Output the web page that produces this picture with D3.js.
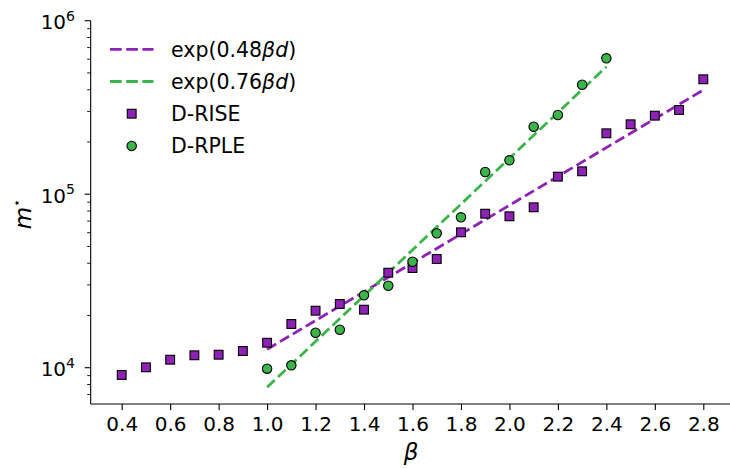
<!DOCTYPE html>
<html>
<head>
<meta charset="utf-8">
<script src="https://cdn.jsdelivr.net/npm/d3@7"></script>
<style>
  body { margin: 0; background: #fff; }
  svg text { font-family: "DejaVu Sans", sans-serif; fill: #000; }
</style>
</head>
<body>
<svg id="chart" width="730" height="468"></svg>
<script>
// beta values and measured m* for each method
const riseBeta = [0.4, 0.5, 0.6, 0.7, 0.8, 0.9, 1.0, 1.1, 1.2, 1.3, 1.4, 1.5, 1.6, 1.7, 1.8, 1.9, 2.0, 2.1, 2.2, 2.3, 2.4, 2.5, 2.6, 2.7, 2.8];
const riseM = [9080, 10050, 11120, 11790, 11880, 12480, 13930, 17860, 21310, 23290, 21600, 35280, 37550, 42320, 60300, 77200, 74580, 84030, 126200, 135500, 224400, 252900, 283500, 305700, 459500];
const rpleBeta = [1.0, 1.1, 1.2, 1.3, 1.4, 1.5, 1.6, 1.7, 1.8, 1.9, 2.0, 2.1, 2.2, 2.3, 2.4];
const rpleM = [9870, 10320, 15910, 16560, 26140, 29690, 40830, 59500, 73600, 134300, 156800, 244900, 286100, 427700, 607300];

// fitted exponential lines (straight on the log axis): end points
const fitRiseBeta = [1.0, 2.8];
const fitRiseM = [12760, 398700];
const fitRpleBeta = [1.0, 2.4];
const fitRpleM = [7709, 543000];

const xTicks = [0.4, 0.6, 0.8, 1.0, 1.2, 1.4, 1.6, 1.8, 2.0, 2.2, 2.4, 2.6, 2.8];
const yTicks = [1e4, 1e5, 1e6];

const purple = "#8e22b4";
const green = "#3cb44a";

const svg = d3.select("#chart");

const x = d3.scaleLinear().domain([0.4, 2.8]).range([121.7, 703.3]);
const y = d3.scaleLog().domain([1e4, 1e6]).range([367.7, 20.7]);

const plotLeft = x(0.272), plotBottom = 404, plotTop = y(1e6), plotRight = 730;

// x axis
const xAxis = svg.append("g")
    .attr("transform", "translate(0," + plotBottom + ")")
    .call(d3.axisBottom(x).tickValues(xTicks).tickFormat(d3.format(".1f"))
        .tickSize(6).tickPadding(6.5).tickSizeOuter(0));
xAxis.select(".domain").remove();
xAxis.selectAll("line").attr("stroke", "#000").attr("stroke-width", 1.1);
xAxis.selectAll("text").attr("font-size", "20px").attr("font-family", "DejaVu Sans");

// y axis with minor ticks
let minor = [];
for (let e = 3; e <= 5; e++) {
    for (let k = 2; k <= 9; k++) {
        let v = k * Math.pow(10, e);
        if (y(v) <= plotBottom && y(v) >= plotTop) minor.push(v);
    }
}
const yAxis = svg.append("g");
yAxis.selectAll(".minor").data(minor).enter().append("line")
    .attr("x1", plotLeft).attr("x2", plotLeft - 3.5)
    .attr("y1", d => y(d)).attr("y2", d => y(d))
    .attr("stroke", "#000").attr("stroke-width", 0.9);
yAxis.selectAll(".major").data(yTicks).enter().append("line")
    .attr("x1", plotLeft).attr("x2", plotLeft - 6)
    .attr("y1", d => y(d)).attr("y2", d => y(d))
    .attr("stroke", "#000").attr("stroke-width", 1.1);
const yLab = yAxis.selectAll(".lab").data(yTicks).enter().append("text")
    .attr("x", 75).attr("y", d => y(d) + 8.3)
    .attr("text-anchor", "end")
    .attr("font-size", "20px");
yLab.append("tspan").text("10");
yLab.append("tspan").attr("dy", -8.5).attr("font-size", "14px").text(d => Math.round(Math.log10(d)));

// spines
svg.append("line").attr("x1", plotLeft).attr("x2", plotRight).attr("y1", plotBottom).attr("y2", plotBottom)
    .attr("stroke", "#000").attr("stroke-width", 1.1);
svg.append("line").attr("x1", plotLeft).attr("x2", plotLeft).attr("y1", plotTop).attr("y2", plotBottom)
    .attr("stroke", "#000").attr("stroke-width", 1.1);

// fit lines
const line = d3.line().x(d => x(d[0])).y(d => y(d[1]));
svg.append("path").datum(d3.zip(fitRiseBeta, fitRiseM)).attr("d", line)
    .attr("fill", "none").attr("stroke", purple).attr("stroke-width", 2.8)
    .attr("stroke-dasharray", "10.5,4.5");
svg.append("path").datum(d3.zip(fitRpleBeta, fitRpleM)).attr("d", line)
    .attr("fill", "none").attr("stroke", green).attr("stroke-width", 2.8)
    .attr("stroke-dasharray", "10.5,4.5");

// markers
const sq = 8.8;
svg.append("g").selectAll("rect").data(d3.zip(riseBeta, riseM)).enter().append("rect")
    .attr("x", d => x(d[0]) - sq / 2).attr("y", d => y(d[1]) - sq / 2)
    .attr("width", sq).attr("height", sq)
    .attr("fill", purple).attr("stroke", "#000").attr("stroke-width", 1.1);
svg.append("g").selectAll("circle").data(d3.zip(rpleBeta, rpleM)).enter().append("circle")
    .attr("cx", d => x(d[0])).attr("cy", d => y(d[1])).attr("r", 4.7)
    .attr("fill", green).attr("stroke", "#000").attr("stroke-width", 1.1);

// axis labels
svg.append("text").attr("x", 411).attr("y", 460).attr("text-anchor", "middle")
    .attr("font-size", "23px").attr("font-style", "italic").text("β");
const ml = svg.append("text").attr("transform", "translate(31,214) rotate(-90)")
    .attr("text-anchor", "middle").attr("font-size", "23px").attr("font-style", "italic");
ml.append("tspan").text("m");
ml.append("tspan").attr("dy", -10).attr("font-size", "13px").attr("font-style", "normal").text("⋆");

// legend
const legend = svg.append("g");
const rows = [
    { type: "line", color: purple, coef: "0.48" },
    { type: "line", color: green, coef: "0.76" },
    { type: "square", color: purple, label: "D-RISE" },
    { type: "circle", color: green, label: "D-RPLE" }
];
rows.forEach(function (r, i) {
    const cy = 49.3 + i * 32.2;
    if (r.type === "line") {
        legend.append("line").attr("x1", 110).attr("x2", 153.5).attr("y1", cy).attr("y2", cy)
            .attr("stroke", r.color).attr("stroke-width", 2.8).attr("stroke-dasharray", "11.7,4.5");
        const t = legend.append("text").attr("x", 171).attr("y", cy + 7.3).attr("font-size", "20.5px");
        t.append("tspan").text("exp(" + r.coef);
        t.append("tspan").attr("font-style", "italic").text("βd");
        t.append("tspan").text(")");
    } else {
        if (r.type === "square") {
            legend.append("rect").attr("x", 131.7 - sq / 2).attr("y", cy - sq / 2)
                .attr("width", sq).attr("height", sq)
                .attr("fill", r.color).attr("stroke", "#000").attr("stroke-width", 1.1);
        } else {
            legend.append("circle").attr("cx", 131.7).attr("cy", cy).attr("r", 4.7)
                .attr("fill", r.color).attr("stroke", "#000").attr("stroke-width", 1.1);
        }
        legend.append("text").attr("x", 171).attr("y", cy + 7.3).attr("font-size", "20.5px").text(r.label);
    }
});
</script>
</body>
</html>
